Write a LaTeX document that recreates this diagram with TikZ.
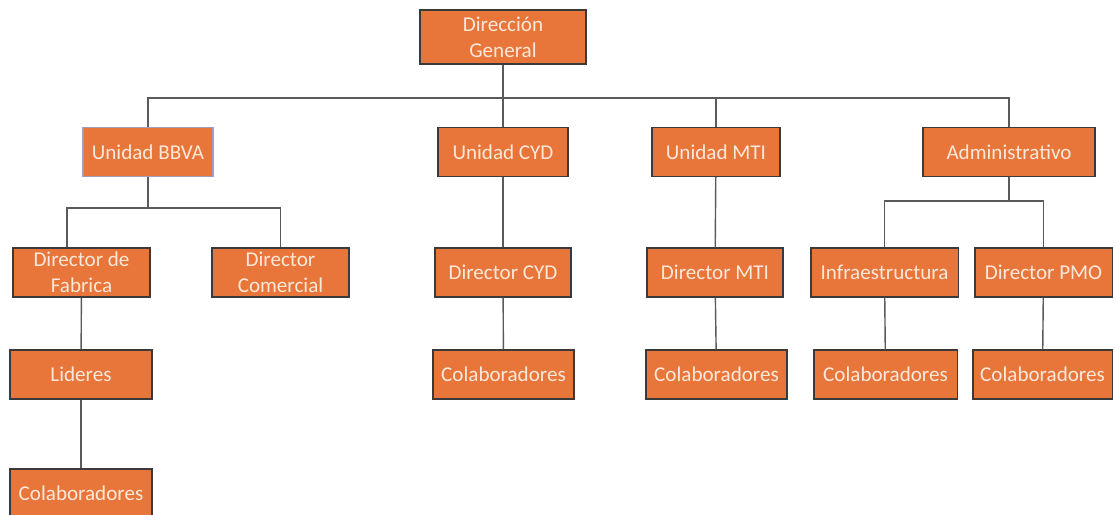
\documentclass[tikz,border=0pt]{standalone}
\usepackage{fontspec}
\setmainfont{Carlito}
\definecolor{boxfill}{HTML}{E8763A}
\definecolor{boxtext}{HTML}{FCE8DA}
\definecolor{boxline}{HTML}{3A3A3A}
\definecolor{linkline}{HTML}{5A5A5A}
\tikzset{
    orgbox/.style={draw=boxline, line width=0.9pt, fill=boxfill, text=boxtext,
        inner sep=0pt, minimum height=1.22cm, align=center,
        font=\fontsize{15}{18.5}\selectfont},
    link/.style={draw=linkline, line width=1pt}
}
\begin{document}
    \begin{tikzpicture}[x=0.025cm, y=-0.025cm]
        \useasboundingbox (0,0) rectangle (1116,514);

        \node[orgbox, minimum width=4.15cm, minimum height=1.35cm] (dg) at (503,37) {Dirección\\General};

        \node[orgbox, minimum width=3.25cm, draw=blue!25!gray!60] (bbva) at (148,152) {Unidad BBVA};
        \node[orgbox, minimum width=3.25cm] (cyd) at (503,152) {Unidad CYD};
        \node[orgbox, minimum width=3.2cm] (mti) at (716,152) {Unidad MTI};
        \node[orgbox, minimum width=4.3cm] (adm) at (1009,152) {Administrativo};

        \node[orgbox, minimum width=3.43cm] (fab) at (81.5,272.5) {Director de\\Fabrica};
        \node[orgbox, minimum width=3.43cm] (com) at (280.5,272.5) {Director\\Comercial};
        \node[orgbox, minimum width=3.4cm] (dcyd) at (503,272.5) {Director CYD};
        \node[orgbox, minimum width=3.4cm] (dmti) at (715,272.5) {Director MTI};
        \node[orgbox, minimum width=3.68cm] (infra) at (884.5,272.5) {Infraestructura};
        \node[orgbox, minimum width=3.43cm] (pmo) at (1043.5,272.5) {Director PMO};

        \node[orgbox, minimum width=3.55cm] (lid) at (81,374.5) {Lideres};
        \node[orgbox, minimum width=3.53cm] (colcyd) at (503.5,374.5) {Colaboradores};
        \node[orgbox, minimum width=3.53cm] (colmti) at (716.5,374.5) {Colaboradores};
        \node[orgbox, minimum width=3.58cm] (colinfra) at (885.5,374.5) {Colaboradores};
        \node[orgbox, minimum width=3.48cm] (colpmo) at (1042.5,374.5) {Colaboradores};

        \node[orgbox, minimum width=3.55cm] (collid) at (81,493.5) {Colaboradores};

        \coordinate (bus) at (0,98);
        \coordinate (bbvabus) at (0,208);
        \coordinate (admbus) at (0,201);

        \draw[link] (dg) -- (cyd);
        \draw[link] (bbva.north) -- (bbva.north |- bus) -- (adm.north |- bus) -- (adm.north);
        \draw[link] (mti.north) -- (mti.north |- bus);

        \draw[link] (bbva.south) -- (bbva.south |- bbvabus);
        \draw[link] ([xshift=-0.36cm]fab.north) -- ([xshift=-0.36cm]fab.north |- bbvabus) -| (com.north);
        \draw[link] (fab) -- (lid);
        \draw[link] (lid) -- (collid);

        \draw[link] (cyd) -- (dcyd);
        \draw[link] (dcyd) -- (colcyd);
        \draw[link] (mti) -- (dmti);
        \draw[link] (dmti) -- (colmti);

        \draw[link] (adm.south) -- (adm.south |- admbus);
        \draw[link] (infra.north) -- (infra.north |- admbus) -| (pmo.north);
        \draw[link] (infra) -- (colinfra);
        \draw[link] (pmo) -- (colpmo);
    \end{tikzpicture}
\end{document}
